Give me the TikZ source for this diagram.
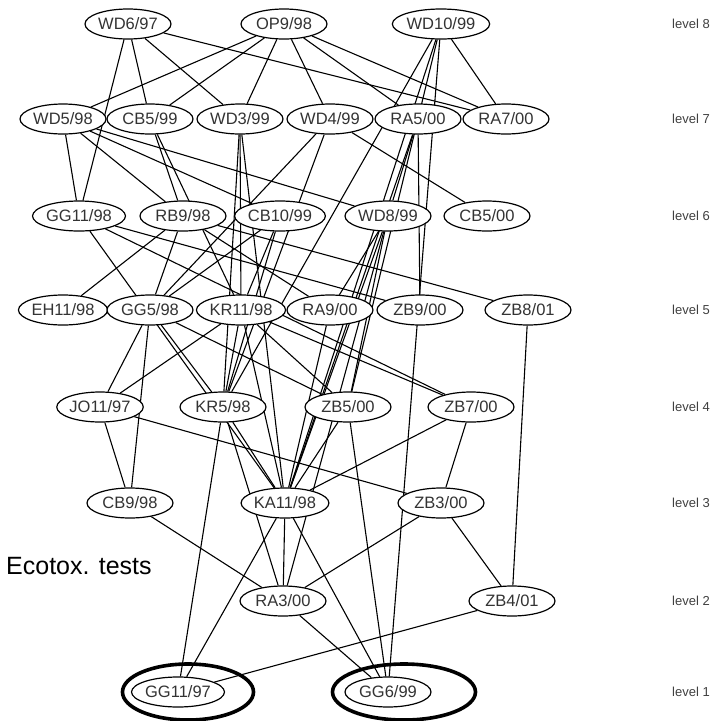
\documentclass[tikz,border=0pt]{standalone}
\usepackage{fontspec}
\setmainfont{Liberation Sans}
\usetikzlibrary{shapes.geometric,backgrounds}
\begin{document}
\begin{tikzpicture}[x=1pt,y=-1pt,
  test/.style={ellipse,draw=black,line width=1.2pt,fill=white,
    minimum width=86pt,minimum height=30pt,inner sep=0pt,
    font=\fontsize{16.5}{18}\selectfont,text=black!80},
  ring/.style={ellipse,draw=black,line width=3.6pt,inner sep=0pt},
  link/.style={line width=1.1pt,draw=black},
  lvl/.style={anchor=west,inner sep=0pt,font=\fontsize{13}{15}\selectfont,text=black!75}]
\useasboundingbox (0,0) rectangle (724,721);

% level 8
\node[test] (wd697)  at (128,24) {WD6/97};
\node[test] (op998)  at (284,24) {OP9/98};
\node[test] (wd1099) at (441,24) {WD10/99};
% level 7
\node[test] (wd598) at (63,119)  {WD5/98};
\node[test] (cb599) at (150,119) {CB5/99};
\node[test] (wd399) at (240,119) {WD3/99};
\node[test] (wd499) at (330,119) {WD4/99};
\node[test] (ra500) at (418,119) {RA5/00};
\node[test] (ra700) at (506,119) {RA7/00};
% level 6
\node[test] (gg1198) at (79,216)  {GG11/98};
\node[test] (rb998)  at (183,216) {RB9/98};
\node[test] (cb1099) at (280,216) {CB10/99};
\node[test] (wd899)  at (388,216) {WD8/99};
\node[test] (cb500)  at (487,216) {CB5/00};
% level 5
\node[test] (eh1198) at (63,310)  {EH11/98};
\node[test] (gg598)  at (150,310) {GG5/98};
\node[test] (kr1198) at (241,310) {KR11/98};
\node[test] (ra900)  at (330,310) {RA9/00};
\node[test] (zb900)  at (420,310) {ZB9/00};
\node[test] (zb801)  at (528,310) {ZB8/01};
% level 4
\node[test] (jo1197) at (100,407) {JO11/97};
\node[test] (kr598)  at (223,407) {KR5/98};
\node[test] (zb500)  at (348,407) {ZB5/00};
\node[test] (zb700)  at (471,407) {ZB7/00};
% level 3
\node[test] (cb998)  at (130,503) {CB9/98};
\node[test] (ka1198) at (285,503) {KA11/98};
\node[test] (zb300)  at (441,503) {ZB3/00};
% level 2
\node[test] (ra300) at (283,601) {RA3/00};
\node[test] (zb401) at (512,601) {ZB4/01};
% level 1
\node[test] (gg1197) at (178,692) {GG11/97};
\node[test] (gg699)  at (388,692) {GG6/99};

% highlighted tests
\node[ring,minimum width=131pt,minimum height=56pt] (ringa) at (188,692) {};
\node[ring,minimum width=143pt,minimum height=56pt] (ringb) at (404,692) {};

% Hasse diagram edges, drawn beneath the white test nodes
\begin{scope}[on background layer]
\fill[white] (0,0) rectangle (724,721);
\foreach \u/\v in {
  wd697/gg1198, wd697/cb599, wd697/wd399, wd697/ra700,
  op998/wd598, op998/cb599, op998/wd399, op998/wd499, op998/ra500, op998/ra700,
  wd1099/ra700, wd1099/kr598, wd1099/ka1198, wd1099/zb500, wd1099/gg699,
  wd598/gg1198, wd598/rb998, wd598/cb1099, wd598/wd899,
  cb599/rb998, cb599/kr1198,
  wd399/kr598, wd399/kr1198, wd399/ka1198,
  wd499/gg598, wd499/cb500, wd499/kr598,
  ra500/wd899, ra500/zb900, ra500/ka1198,
  gg1198/zb700, gg1198/zb900, gg1198/ka1198,
  rb998/eh1198, rb998/gg598, rb998/ra900, rb998/zb801,
  cb1099/gg598, cb1099/kr1198, cb1099/kr598,
  wd899/ra900, wd899/ka1198, wd899/zb500, wd899/ra300,
  gg598/jo1197, gg598/cb998, gg598/kr598, gg598/zb500,
  kr1198/jo1197, kr1198/kr598, kr1198/ka1198, kr1198/zb500, kr1198/zb700,
  ra900/ka1198, zb801/zb401,
  jo1197/cb998, jo1197/zb300,
  kr598/ka1198, kr598/gg1197, kr598/ra300,
  zb500/ka1198, zb500/gg699,
  zb700/ka1198, zb700/zb300,
  cb998/ra300,
  ka1198/ra300, ka1198/gg1197, ka1198/gg699,
  zb300/ra300, zb300/zb401,
  ra300/gg699, zb401/gg1197}
  \draw[link] (\u) -- (\v);
\end{scope}

% level captions
\node[lvl] (l8) at (672,24)  {level 8};
\node[lvl] (l7) at (672,119) {level 7};
\node[lvl] (l6) at (672,216) {level 6};
\node[lvl] (l5) at (672,310) {level 5};
\node[lvl] (l4) at (672,407) {level 4};
\node[lvl] (l3) at (672,503) {level 3};
\node[lvl] (l2) at (672,601) {level 2};
\node[lvl] (l1) at (672,692) {level 1};

\node[anchor=west,inner sep=0pt,font=\fontsize{25}{28}\selectfont] (ecotox) at (6,566) {Ecotox. tests};
\end{tikzpicture}
\end{document}
